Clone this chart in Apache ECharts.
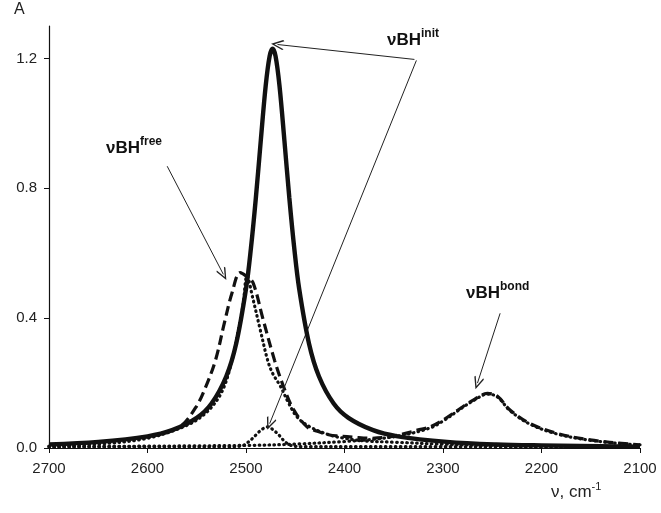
<!DOCTYPE html>
<html>
<head>
<meta charset="utf-8">
<script src="https://cdn.jsdelivr.net/npm/echarts@6/dist/echarts.min.js"></script>
<style>
  html, body { margin: 0; padding: 0; background: #fff; }
  #chart { width: 661px; height: 513px; }
</style>
</head>
<body>
<div id="chart"></div>
<script>
// wavenumber (cm-1) / absorbance pairs
const nuInit = [2700, 2650, 2600, 2575, 2550, 2535, 2520, 2510, 2500, 2495, 2490, 2485, 2480, 2476, 2473, 2470, 2466, 2461, 2456, 2451, 2446, 2436, 2426, 2411, 2396, 2371, 2346, 2296, 2246, 2200, 2100]
const aInit = [0.011, 0.019, 0.036, 0.055, 0.093, 0.137, 0.221, 0.321, 0.49, 0.615, 0.77, 0.947, 1.116, 1.207, 1.23, 1.207, 1.116, 0.947, 0.77, 0.615, 0.49, 0.321, 0.221, 0.137, 0.093, 0.055, 0.036, 0.019, 0.011, 0.008, 0.004]

const nuSum = [2700, 2650, 2600, 2580, 2565, 2550, 2542, 2531, 2522, 2514, 2506, 2500, 2493, 2483, 2471, 2462, 2452, 2438, 2426, 2415, 2405, 2390, 2374, 2355, 2341, 2326, 2313, 2300, 2280, 2268, 2255, 2245, 2232, 2212, 2184, 2151, 2110, 2100]
const aSum = [0.01, 0.018, 0.035, 0.05, 0.07, 0.13, 0.18, 0.27, 0.385, 0.48, 0.54, 0.53, 0.51, 0.4, 0.27, 0.19, 0.12, 0.065, 0.05, 0.04, 0.037, 0.033, 0.03, 0.034, 0.043, 0.055, 0.065, 0.086, 0.127, 0.15, 0.168, 0.16, 0.117, 0.076, 0.045, 0.025, 0.012, 0.01]

const nuFree = [2700, 2650, 2600, 2560, 2540, 2525, 2515, 2508, 2503, 2499, 2493, 2486, 2478, 2473, 2465, 2457, 2448, 2435, 2415, 2400, 2380, 2350, 2300, 2200, 2100]
const aFree = [0.006, 0.012, 0.03, 0.07, 0.11, 0.17, 0.26, 0.36, 0.44, 0.53, 0.46, 0.37, 0.27, 0.23, 0.19, 0.14, 0.095, 0.065, 0.04, 0.03, 0.022, 0.018, 0.012, 0.006, 0.004]

const nuSmall = [2700, 2600, 2520, 2505, 2497, 2490, 2484, 2478, 2472, 2466, 2460, 2452, 2440, 2300, 2100]
const aSmall = [0.004, 0.004, 0.004, 0.006, 0.02, 0.04, 0.057, 0.065, 0.055, 0.038, 0.018, 0.006, 0.004, 0.004, 0.004]

const nuBond = [2700, 2500, 2450, 2400, 2370, 2340, 2313, 2300, 2280, 2268, 2255, 2245, 2232, 2212, 2184, 2151, 2110, 2100]
const aBond = [0.004, 0.008, 0.012, 0.02, 0.027, 0.04, 0.062, 0.083, 0.125, 0.148, 0.166, 0.158, 0.115, 0.074, 0.043, 0.024, 0.011, 0.01]

const xTicks = [2700, 2600, 2500, 2400, 2300, 2200, 2100]
const yTicks = [0.0, 0.4, 0.8, 1.2]

// arrows: [from, to] in data coordinates
const arrows = [
  [[2329, 1.197], [2468, 1.243]],
  [[2327, 1.194], [2476, 0.075]],
  [[2580, 0.868], [2523, 0.535]],
  [[2242, 0.415], [2265, 0.2]]
]

const ink = '#111'
const font = 'Liberation Sans, Arial, sans-serif'
const chevron = 'path://M5,0L10,9L9,10L5,2.6L1,10L0,9Z'
const dots = { color: ink, width: 3.2, type: [0.6, 4.4], cap: 'round' }

function pairs(xs, ys) {
  return xs.map((x, i) => [x, ys[i]])
}

function lineSeries(name, xs, ys, style, z) {
  return {
    name: name,
    type: 'line',
    data: pairs(xs, ys),
    smooth: 0.35,
    showSymbol: false,
    symbol: 'none',
    z: z,
    lineStyle: style,
    animation: false
  }
}

function tag(left, top, sup) {
  return {
    type: 'text', left: left, top: top,
    style: {
      text: '{a|νBH}{s|' + sup + '}',
      rich: {
        a: { fontSize: 17, fontWeight: 'bold', fontFamily: font, fill: '#111' },
        s: { fontSize: 12, fontWeight: 'bold', fontFamily: font, fill: '#111', padding: [0, 0, 12, 0] }
      }
    }
  }
}

const chart = echarts.init(document.getElementById('chart'))

const series = [
  lineSeries('bond', nuBond, aBond, dots, 2),
  lineSeries('small', nuSmall, aSmall, dots, 2),
  lineSeries('free', nuFree, aFree, dots, 3),
  lineSeries('sum', nuSum, aSum, { color: ink, width: 3.2, type: [10, 5] }, 4),
  lineSeries('init', nuInit, aInit, { color: ink, width: 4.4, type: 'solid' }, 5)
]

series[4].markLine = {
  silent: true,
  animation: false,
  symbol: ['none', chevron],
  symbolSize: [10, 13],
  label: { show: false },
  lineStyle: { color: '#222', width: 1, type: 'solid' },
  data: arrows.map(a => [{ coord: a[0] }, { coord: a[1] }])
}

chart.setOption({
  backgroundColor: '#fff',
  animation: false,
  grid: { left: 49, right: 21, top: 26, bottom: 65, containLabel: false },
  xAxis: {
    type: 'value',
    inverse: true,
    min: 2100,
    max: 2700,
    interval: 100,
    axisLine: { show: true, onZero: false, lineStyle: { color: ink, width: 1.2 } },
    axisTick: { show: true, inside: false, length: 5, lineStyle: { color: ink } },
    splitLine: { show: false },
    axisLabel: {
      margin: 13,
      color: '#222',
      fontSize: 15,
      fontFamily: font,
      formatter: v => xTicks.indexOf(v) >= 0 ? String(v) : ''
    }
  },
  yAxis: {
    type: 'value',
    min: 0,
    max: 1.3,
    interval: 0.4,
    axisLine: { show: true, lineStyle: { color: ink, width: 1.2 } },
    axisTick: { show: true, inside: false, length: 5, lineStyle: { color: ink } },
    splitLine: { show: false },
    axisLabel: {
      margin: 12,
      color: '#222',
      fontSize: 15,
      fontFamily: font,
      showMaxLabel: false,
      formatter: v => yTicks.some(t => Math.abs(t - v) < 1e-6) ? v.toFixed(1) : ''
    }
  },
  graphic: [
    {
      type: 'text', left: 14, top: 2,
      style: { text: 'A', fill: '#222', font: '16px ' + font }
    },
    {
      type: 'text', left: 551, top: 481,
      style: {
        text: '{a|ν, cm}{s|-1}',
        rich: {
          a: { fontSize: 17, fontFamily: font, fill: '#222' },
          s: { fontSize: 11, fontFamily: font, fill: '#222', padding: [0, 0, 12, 0] }
        }
      }
    },
    tag(387, 28, 'init'),
    tag(106, 136, 'free'),
    tag(466, 281, 'bond')
  ],
  series: series
})
</script>
</body>
</html>
